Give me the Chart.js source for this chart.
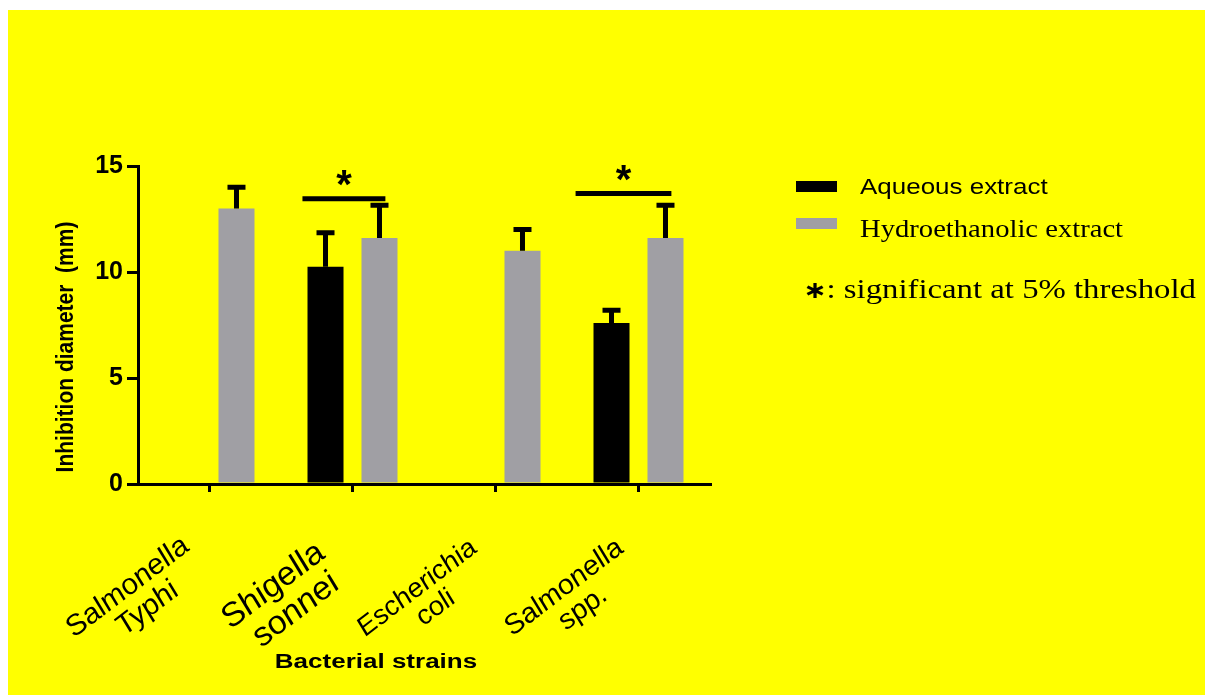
<!DOCTYPE html>
<html>
<head>
<meta charset="utf-8">
<script src="https://cdn.jsdelivr.net/npm/chart.js@4.4.0/dist/chart.umd.min.js"></script>
<style>
  html, body { margin: 0; padding: 0; background: #fff; }
  #bg { position: absolute; left: 8px; top: 10px; width: 1197px; height: 685px; background: #ffff00; }
  #chart { position: absolute; left: 0; top: 0; }
  .swatch { position: absolute; left: 796px; width: 41px; height: 11px; }
  .key { position: absolute; left: 860px; height: 30px; line-height: 30px; white-space: nowrap;
         color: #000; transform-origin: left center; }
  #note { position: absolute; left: 803px; top: 272px; height: 34px; line-height: 34px; white-space: nowrap;
          font-family: "Liberation Serif", "Times New Roman", serif; font-size: 28px; color: #000;
          transform: scaleX(1.17); transform-origin: left center; }
  #note b { font-family: "DejaVu Sans", sans-serif; font-size: 24px; }
</style>
</head>
<body>
<div id="bg"></div>
<canvas id="chart" width="1205" height="695"></canvas>
<div id="legend"></div>
<div id="note"><b>∗</b>: significant at 5% threshold</div>
<script>
// valeurs
var strains = [["Salmonella", "Typhi"], ["Shigella", "sonnei"], ["Escherichia", "coli"], ["Salmonella", "spp."]];
var aqueous = [0, 10.25, 0, 7.6];
var aqueousErr = [0, 1.6, 0, 0.6];
var hydro = [13, 11.6, 11, 11.6];
var hydroErr = [1, 1.55, 1, 1.55];
var yTicks = [0, 5, 10, 15];

// comparaisons significatives (*)
var sigStrain = [1, 3];
var sigLevel = [13.45, 13.7];
var sigFrom = [-0.35, -0.44];
var sigTo = [0.23, 0.23];

// placement des noms de souches (penches)
var labelShift = [-72, -68, -69, -65];
var labelSize = [28, 32, 26, 27];
var stretch = 1.1;

var black = "#000000";
var grey = "#a09fa4";

var errorBars = {
    id: "errorBars",
    afterDatasetsDraw: function (chart) {
        var ctx = chart.ctx;
        var y = chart.scales.y;
        [aqueousErr, hydroErr].forEach(function (errs, d) {
            var meta = chart.getDatasetMeta(d);
            meta.data.forEach(function (bar, i) {
                if (!errs[i]) return;
                var top = y.getPixelForValue(chart.data.datasets[d].data[i] + errs[i]);
                ctx.save();
                ctx.strokeStyle = black;
                ctx.lineWidth = 5;
                ctx.beginPath();
                ctx.moveTo(bar.x, bar.y);
                ctx.lineTo(bar.x, top);
                ctx.moveTo(bar.x - 9, top);
                ctx.lineTo(bar.x + 9, top);
                ctx.stroke();
                ctx.restore();
            });
        });
    }
};

var extras = {
    id: "extras",
    afterDraw: function (chart) {
        var ctx = chart.ctx;
        var x = chart.scales.x;
        var y = chart.scales.y;
        ctx.save();
        ctx.fillStyle = black;
        ctx.strokeStyle = black;

        // barres de signification
        sigStrain.forEach(function (c, k) {
            var x0 = x.getPixelForValue(c + sigFrom[k]);
            var x1 = x.getPixelForValue(c + sigTo[k]);
            var yy = y.getPixelForValue(sigLevel[k]);
            ctx.lineWidth = 5;
            ctx.beginPath();
            ctx.moveTo(x0, yy);
            ctx.lineTo(x1, yy);
            ctx.stroke();
            ctx.font = "bold 40px 'Liberation Sans', Arial, sans-serif";
            ctx.textAlign = "center";
            ctx.textBaseline = "middle";
            ctx.fillText("*", (x0 + x1) / 2, yy - 12);
        });

        // noms des souches
        strains.forEach(function (lines, i) {
            var cx = x.getPixelForTick(i) + labelShift[i];
            var cy = chart.chartArea.bottom + 114;
            ctx.save();
            ctx.translate(cx, cy);
            ctx.scale(stretch, 1);
            ctx.rotate(-40 * Math.PI / 180);
            ctx.font = "italic " + labelSize[i] + "px 'Liberation Sans', Arial, sans-serif";
            ctx.textAlign = "center";
            ctx.textBaseline = "middle";
            var lh = labelSize[i];
            lines.forEach(function (t, j) {
                ctx.fillText(t, 0, (j - (lines.length - 1) / 2) * lh);
            });
            ctx.restore();
        });

        // titres des axes
        ctx.textAlign = "center";
        ctx.textBaseline = "middle";
        ctx.save();
        ctx.translate(376, 662);
        ctx.scale(1.3, 1);
        ctx.font = "bold 20px 'Liberation Sans', Arial, sans-serif";
        ctx.fillText("Bacterial strains", 0, 0);
        ctx.restore();
        ctx.save();
        ctx.translate(66, 347);
        ctx.scale(1.15, 1);
        ctx.rotate(-Math.PI / 2);
        ctx.font = "bold 21px 'Liberation Sans', Arial, sans-serif";
        ctx.fillText("Inhibition diameter  (mm)", 0, 0);
        ctx.restore();
        ctx.restore();
    }
};

var chart = new Chart(document.getElementById("chart").getContext("2d"), {
    type: "bar",
    data: {
        labels: strains,
        datasets: [{
            label: "Aqueous extract",
            data: aqueous,
            backgroundColor: black,
            categoryPercentage: 0.755,
            barPercentage: 0.667
        }, {
            label: "Hydroethanolic extract",
            data: hydro,
            backgroundColor: grey,
            categoryPercentage: 0.755,
            barPercentage: 0.667
        }]
    },
    options: {
        responsive: false,
        animation: false,
        layout: { padding: { left: 78, right: 495, top: 166, bottom: 191 } },
        plugins: {
            legend: { display: false },
            tooltip: { enabled: false }
        },
        scales: {
            x: {
                offset: true,
                ticks: { display: false },
                grid: { display: true, drawOnChartArea: false, offset: false, drawTicks: true,
                        tickLength: 8, lineWidth: 3, color: black },
                border: { display: true, width: 3, color: black },
                afterFit: function (s) { s.height = 20; }
            },
            y: {
                min: 0,
                max: 15,
                afterBuildTicks: function (s) { s.ticks = yTicks.map(function (v) { return { value: v }; }); },
                ticks: {
                    color: black,
                    padding: 4,
                    font: { family: "'Liberation Sans', Arial, sans-serif", size: 25, weight: "bold" }
                },
                grid: { drawOnChartArea: false, drawTicks: true, tickLength: 11, lineWidth: 3, color: black },
                border: { display: true, width: 3, color: black },
                afterFit: function (s) { s.width = 60; }
            }
        }
    },
    plugins: [errorBars, extras]
});

// legende a droite
var keyStyle = [
    { top: 181, text: 172, font: "22px 'Liberation Sans', Arial, sans-serif", sx: 1.18 },
    { top: 218, text: 214, font: "25px 'Liberation Serif', 'Times New Roman', serif", sx: 1.145 }
];
var legend = document.getElementById("legend");
chart.data.datasets.forEach(function (ds, i) {
    var sw = document.createElement("div");
    sw.className = "swatch";
    sw.style.top = keyStyle[i].top + "px";
    sw.style.background = ds.backgroundColor;
    legend.appendChild(sw);
    var tx = document.createElement("div");
    tx.className = "key";
    tx.style.top = keyStyle[i].text + "px";
    tx.style.font = keyStyle[i].font;
    tx.style.lineHeight = "30px";
    tx.style.transform = "scaleX(" + keyStyle[i].sx + ")";
    tx.textContent = ds.label;
    legend.appendChild(tx);
});
</script>
</body>
</html>
